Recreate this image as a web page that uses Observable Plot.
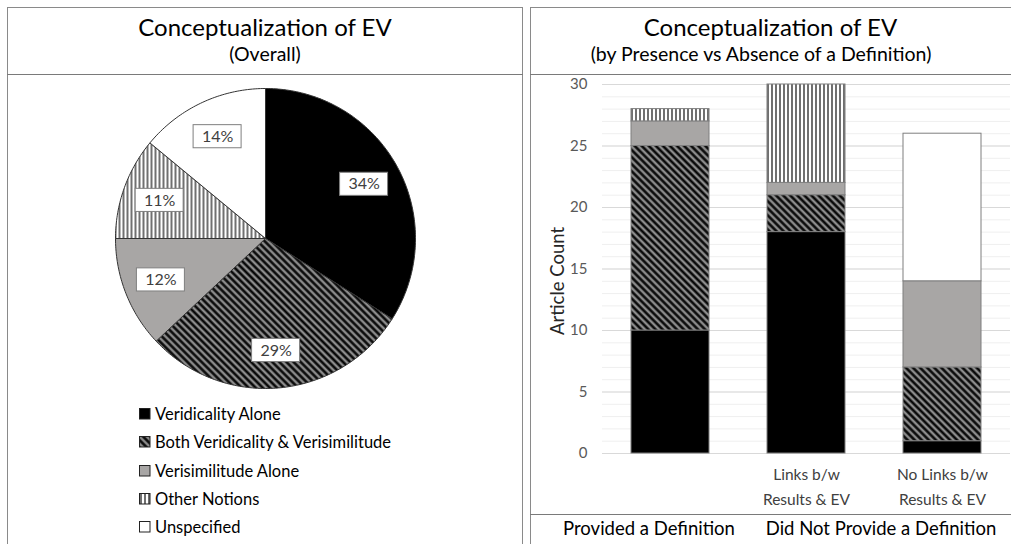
<!DOCTYPE html>
<html><head><meta charset="utf-8">
<script src="https://cdn.jsdelivr.net/npm/d3@7"></script>
<script src="https://cdn.jsdelivr.net/npm/@observablehq/plot@0.6"></script>
<style>
body{margin:0;background:#fff;font-family:Lato,"Open Sans",sans-serif;color:#000;}
#root{position:relative;width:1011px;height:544px;overflow:hidden;background:#fff;}
.box{position:absolute;border:1.5px solid #8a8a8a;box-sizing:border-box;}
.hline{position:absolute;height:0;border-top:1.5px solid #7a7a7a;}
.title{position:absolute;text-align:center;font-size:24px;line-height:30px;color:#000;white-space:nowrap;}
.sub{position:absolute;text-align:center;font-size:19.5px;line-height:24px;color:#000;white-space:nowrap;}
.leg{position:absolute;font-size:16.5px;line-height:20px;color:#000;white-space:nowrap;}
.leg svg{position:absolute;left:0;top:4px;}
.leg span{position:absolute;left:16px;top:0;}
.grp{position:absolute;font-size:18.5px;line-height:22px;text-align:center;white-space:nowrap;color:#000;}
#ylab{position:absolute;font-size:18.5px;line-height:20px;white-space:nowrap;color:#262626;transform:rotate(-90deg);transform-origin:center center;text-align:center;width:140px;}
</style></head><body>
<svg width="0" height="0" style="position:absolute">
  <defs>
    <pattern id="pBoth" patternUnits="userSpaceOnUse" width="5" height="5" patternTransform="rotate(45)">
      <rect width="5" height="5" fill="#8c8c8c"/>
      <line x1="0" y1="2.5" x2="5" y2="2.5" stroke="#000" stroke-width="2.4"/>
    </pattern>
    <pattern id="pOther" patternUnits="userSpaceOnUse" width="4" height="4">
      <rect width="4" height="4" fill="#fff"/>
      <line x1="2" y1="0" x2="2" y2="4" stroke="#222" stroke-width="1.3"/>
    </pattern>
  </defs>
</svg>
<div id="root">
  <div class="box" style="left:7px;top:7px;width:516px;height:600px"></div>
  <div class="box" style="left:530px;top:7px;width:530px;height:600px"></div>
  <div class="hline" style="left:7px;top:74px;width:516px"></div>
  <div class="hline" style="left:530px;top:74px;width:481px"></div>
  <div class="hline" style="left:530px;top:514px;width:481px"></div>
  <div class="title" style="left:7px;width:516px;top:12px">Conceptualization of EV</div>
  <div class="sub" style="left:7px;width:516px;top:42px">(Overall)</div>
  <div class="title" style="left:530px;width:481px;top:12px">Conceptualization of EV</div>
  <div class="sub" style="left:530px;width:462px;top:42px">(by Presence vs Absence of a Definition)</div>
  <div id="pie" style="position:absolute;left:105px;top:78px"></div>
  <div id="legend"></div>
  <div id="bars" style="position:absolute;left:530px;top:66px"></div>
  <div id="ylab" style="left:487px;top:271px">Article Count</div>
  <div id="groups"></div>
</div>
<script>
// ---- data ----
const seriesNames = ["Veridicality Alone", "Both Veridicality & Verisimilitude", "Verisimilitude Alone", "Other Notions", "Unspecified"];
const seriesFills = ["#000000", "url(#pBoth)", "#a8a6a5", "url(#pOther)", "#ffffff"];
const piePercents = [34, 29, 12, 11, 14];

const categories = ["Provided a Definition", "Links b/w Results & EV", "No Links b/w Results & EV"];
const tickLabels = ["", "Links b/w\nResults & EV", "No Links b/w\nResults & EV"];
const groupLabels = ["Provided a Definition", "Did Not Provide a Definition"];

const veridicalityAlone = [10, 18, 1];
const bothVeriVerisim   = [15, 3, 6];
const verisimAlone      = [2, 1, 7];
const otherNotions      = [1, 8, 0];
const unspecified       = [0, 0, 12];
const yTicks = [0, 5, 10, 15, 20, 25, 30];

const seriesValues = [veridicalityAlone, bothVeriVerisim, verisimAlone, otherNotions, unspecified];
const colorScale = {domain: seriesNames, range: seriesFills, legend: false};

// ---- pie ----
const R = 150, S = 160;
const piePts = [];
const pieLabels = [];
let cum = 0;
seriesNames.forEach((s, i) => {
  const v = piePercents[i];
  const a0 = cum / 100 * 2 * Math.PI;
  cum += v;
  const a1 = cum / 100 * 2 * Math.PI;
  const n = Math.max(2, Math.ceil((a1 - a0) / (Math.PI / 180)));
  piePts.push({s, x: 0, y: 0});
  for (let k = 0; k <= n; k++) {
    const a = a0 + (a1 - a0) * k / n;
    piePts.push({s, x: Math.sin(a), y: Math.cos(a)});
  }
  piePts.push({s, x: 0, y: 0});
  const am = (a0 + a1) / 2, lr = 0.75;
  pieLabels.push({s, x: lr * Math.sin(am), y: lr * Math.cos(am), t: v + "%"});
});
const dom = S / R;
const pie = Plot.plot({
  width: 2 * S, height: 2 * S, margin: 0,
  x: {domain: [-dom, dom], axis: null},
  y: {domain: [-dom, dom], axis: null},
  color: colorScale,
  style: {background: "transparent", fontFamily: "Lato, sans-serif"},
  marks: [
    Plot.line(piePts, {x: "x", y: "y", z: "s", fill: "s", stroke: "#333", strokeWidth: 1, curve: "linear"}),
    Plot.rect(pieLabels, {x1: d => d.x - 0.16, x2: d => d.x + 0.16, y1: d => d.y - 0.077, y2: d => d.y + 0.077, fill: "#fff", stroke: "#7f7f7f", strokeWidth: 1}),
    Plot.text(pieLabels, {x: "x", y: "y", text: "t", fontSize: 16, fill: "#404040"})
  ]
});
document.getElementById("pie").appendChild(pie);

// ---- legend ----
const legend = document.getElementById("legend");
seriesNames.forEach((s, i) => {
  const d = document.createElement("div");
  d.className = "leg";
  d.style.left = "139px";
  d.style.top = (404 + i * 28.3) + "px";
  d.innerHTML = `<svg width="12" height="12"><rect x="0.5" y="0.5" width="10.5" height="10.5" fill="${seriesFills[i]}" stroke="#222" stroke-width="1"/></svg><span>${s}</span>`;
  legend.appendChild(d);
});

// ---- bars ----
const barData = [];
categories.forEach((c, j) => {
  seriesNames.forEach((s, i) => {
    const v = seriesValues[i][j];
    if (v > 0) barData.push({c, s, v});
  });
});
const tickData = categories.map((c, j) => ({c, t: tickLabels[j]}));
const bars = Plot.plot({
  width: 481, height: 449,
  marginLeft: 72, marginRight: 1, marginTop: 18, marginBottom: 62,
  x: {domain: categories, paddingInner: 0.43, paddingOuter: 0.215, axis: null},
  y: {domain: [0, 30], ticks: 6, tickSize: 0, tickPadding: 15, label: null},
  color: colorScale,
  style: {background: "transparent", fontFamily: "Lato, sans-serif", fontSize: "15px", color: "#595959"},
  marks: [
    Plot.ruleY(d3.range(0, 31), {stroke: "#efefef", strokeWidth: 1}),
    Plot.ruleY(yTicks, {stroke: "#d9d9d9", strokeWidth: 1}),
    Plot.barY(barData, {x: "c", y: "v", fill: "s", stroke: "#7f7f7f", strokeWidth: 1, order: seriesNames}),
    Plot.text(tickData, {x: "c", y: 0, text: "t", lineAnchor: "top", dy: 8, lineHeight: 1.65, fontSize: 15.5, fill: "#404040"})
  ]
});
document.getElementById("bars").appendChild(bars);

// ---- group labels ----
const groups = document.getElementById("groups");
const groupCenters = [649, 881];
groupLabels.forEach((g, i) => {
  const d = document.createElement("div");
  d.className = "grp";
  d.style.left = (groupCenters[i] - 150) + "px";
  d.style.width = "300px";
  d.style.top = "517px";
  d.textContent = g;
  groups.appendChild(d);
});
</script>
</body></html>
